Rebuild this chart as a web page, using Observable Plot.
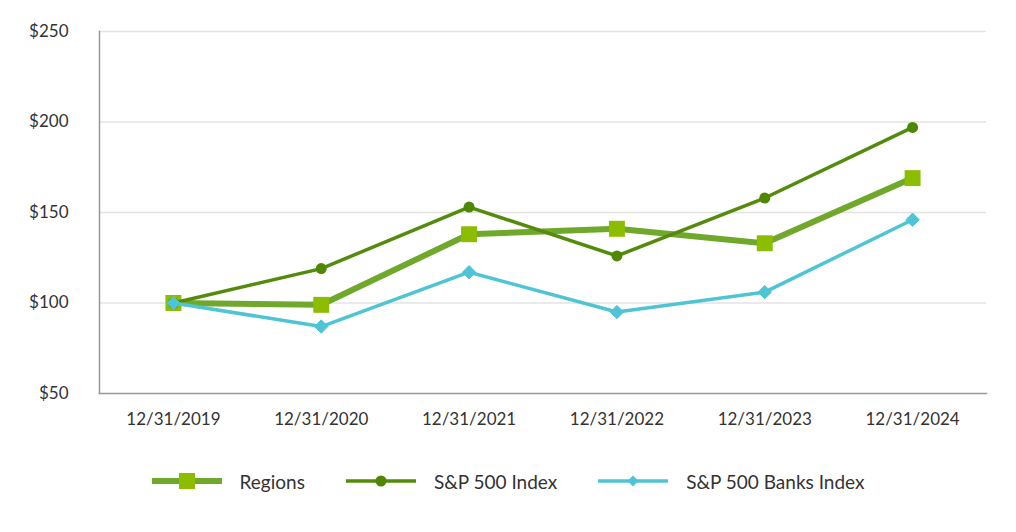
<!DOCTYPE html>
<html>
<head>
<meta charset="utf-8">
<script src="https://cdn.jsdelivr.net/npm/d3@7"></script>
<script src="https://cdn.jsdelivr.net/npm/@observablehq/plot@0.6"></script>
<style>
  body { margin: 0; background: #fff; font-family: Lato, "Open Sans", sans-serif; color: #333; }
  #legend { display: flex; justify-content: center; gap: 41px; height: 72px; align-items: center; font-size: 19px; }
  .item { display: flex; align-items: center; gap: 18px; }
</style>
</head>
<body>
<div id="chart"></div>
<div id="legend"></div>
<script>
const dates = ["12/31/2019", "12/31/2020", "12/31/2021", "12/31/2022", "12/31/2023", "12/31/2024"];
const regions = [100, 99, 138, 141, 133, 169];
const sp500 = [100, 119, 153, 126, 158, 197];
const banks = [100, 87, 117, 95, 106, 146];
const yTicks = [50, 100, 150, 200, 250];

const seriesDefs = [
  {name: "Regions", values: regions, line: "#6fa82a", marker: "#8cbd00", width: 6, symbol: "square", r: 9},
  {name: "S&P 500 Index", values: sp500, line: "#548b0c", marker: "#4e8700", width: 3.5, symbol: "circle", r: 5.5},
  {name: "S&P 500 Banks Index", values: banks, line: "#4ec4d4", marker: "#4ec4d4", width: 3.5, symbol: "diamond2", r: 6}
];

const rows = seriesDefs.flatMap(s => dates.map((d, i) => ({date: d, value: s.values[i], series: s.name})));

const marks = [
  Plot.gridY(yTicks.filter(t => t > 50), {stroke: "#e3e3e3", strokeOpacity: 1, strokeWidth: 1.5}),
  Plot.axisY({ticks: yTicks, tickFormat: d => "$" + d, tickSize: 0, tickPadding: 31, fontSize: 17, fill: "#333"}),
  Plot.axisX({tickSize: 0, tickPadding: 19, fontSize: 17, fill: "#333", label: null})
];
for (const s of seriesDefs) {
  const data = rows.filter(r => r.series === s.name);
  marks.push(Plot.line(data, {x: "date", y: "value", stroke: s.line, strokeWidth: s.width, strokeLinejoin: "round"}));
  marks.push(Plot.dot(data, {x: "date", y: "value", fill: s.marker, stroke: s.symbol === "diamond2" ? s.marker : "none", strokeWidth: s.symbol === "diamond2" ? 1 : 0, symbol: s.symbol, r: s.r}));
}
marks.push(Plot.frame({anchor: "left", stroke: "#999", strokeWidth: 1.5}));
marks.push(Plot.frame({anchor: "bottom", stroke: "#999", strokeWidth: 1.5}));

const chart = Plot.plot({
  width: 1016,
  height: 445,
  marginTop: 31,
  marginBottom: 52,
  marginLeft: 99,
  marginRight: 30,
  style: {fontFamily: "Lato, 'Open Sans', sans-serif", fontSize: "17px", color: "#333", background: "#fff"},
  x: {type: "point", domain: dates, padding: 0.5, round: false, label: null},
  y: {domain: [50, 250], label: null},
  marks
});
document.getElementById("chart").appendChild(chart);

const legend = document.getElementById("legend");
for (const s of seriesDefs) {
  const item = document.createElement("div");
  item.className = "item";
  const sw = d3.create("svg").attr("width", 70).attr("height", 20);
  sw.append("line").attr("x1", 0).attr("x2", 70).attr("y1", 10).attr("y2", 10).attr("stroke", s.line).attr("stroke-width", s.width);
  const sym = s.symbol === "circle" ? d3.symbolCircle : d3.symbolSquare;
  const size = s.symbol === "square" ? 256 : s.symbol === "circle" ? Math.PI * 5.5 * 5.5 : 60;
  sw.append("path").attr("d", d3.symbol(sym, size)()).attr("fill", s.marker)
    .attr("transform", s.symbol === "diamond2" ? "translate(35,10) rotate(45)" : "translate(35,10)");
  item.appendChild(sw.node());
  const t = document.createElement("span");
  t.textContent = s.name;
  item.appendChild(t);
  legend.appendChild(item);
}
</script>
</body>
</html>
